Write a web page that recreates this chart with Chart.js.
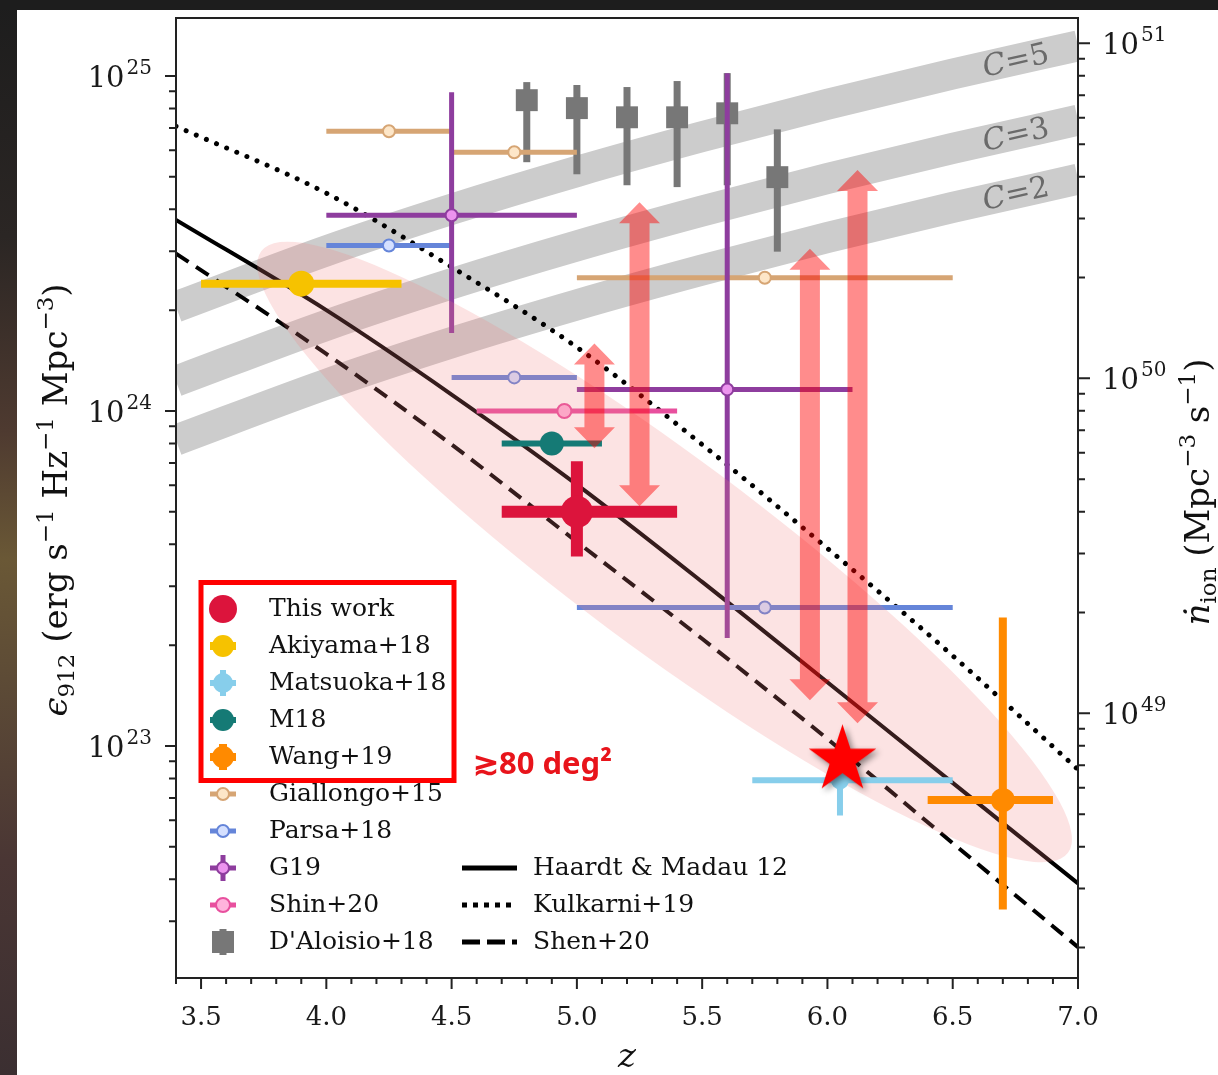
<!DOCTYPE html>
<html>
<head>
<meta charset="utf-8">
<title>Ionizing emissivity vs redshift</title>
<script src="https://cdn.jsdelivr.net/npm/chart.js@4.4.1/dist/chart.umd.min.js"></script>
<style>
  html, body { margin: 0; padding: 0; background: #1d1d1d; overflow: hidden; }
  canvas { display: block; }
</style>
</head>
<body>
<canvas id="myChart" width="1218" height="1075"></canvas>
<script>
// rows: [z, eps912, zLow, zHigh, epsLow, epsHigh]  (null -> no bar)
const thisWork = [[5.0, 5.0e23, 4.7, 5.4, 3.68e23, 7.08e23]];
const akiyama18 = [[3.9, 2.4e24, 3.5, 4.3, null, null]];
const matsuoka18 = [[6.05, 7.9e22, 5.7, 6.5, 6.2e22, 9.5e22]];
const m18 = [[4.9, 8.0e23, 4.7, 5.1, null, null]];
const wang19 = [[6.7, 6.9e22, 6.4, 6.9, 3.25e22, 2.42e23]];
const giallongo15 = [
  [4.25, 6.84e24, 4.0, 4.5, null, null],
  [4.75, 5.92e24, 4.5, 5.0, null, null],
  [5.75, 2.50e24, 5.0, 6.5, null, null]
];
const parsa18 = [
  [4.25, 3.12e24, 4.0, 4.5, null, null],
  [4.75, 1.26e24, 4.5, 5.0, null, null],
  [5.75, 2.59e23, 5.0, 6.5, null, null]
];
const g19 = [
  [4.5, 3.84e24, 4.0, 5.0, 1.71e24, 8.95e24],
  [5.6, 1.16e24, 5.0, 6.1, 2.10e23, 1.02e25]
];
const shin20 = [[4.95, 1.0e24, 4.6, 5.4, null, null]];
const daloisio18 = [
  [4.8, 8.47e24, null, null, 5.53e24, 9.59e24],
  [5.0, 8.02e24, null, null, 5.09e24, 9.40e24],
  [5.2, 7.53e24, null, null, 4.72e24, 9.27e24],
  [5.4, 7.53e24, null, null, 4.66e24, 9.66e24],
  [5.6, 7.74e24, null, null, 4.72e24, 1.02e25],
  [5.8, 4.99e24, null, null, 2.99e24, 6.93e24]
];
const starZ = [6.06];
const starEps = [9.1e22];

// model emissivities
const modelZ = [3.4, 4.0, 4.5, 5.0, 5.5, 6.0, 6.5, 7.0];
const haardtMadau12 = [3.72e24, 2.00e24, 1.12e24, 6.03e23, 3.09e23, 1.55e23, 7.76e22, 3.89e22];
const kulkarni19 = [7.08e24, 4.47e24, 2.69e24, 1.55e24, 7.94e23, 3.89e23, 1.86e23, 8.51e22];
const shen20 = [2.95e24, 1.48e24, 7.94e23, 4.07e23, 2.09e23, 1.05e23, 5.13e22, 2.51e22];

// emissivity that balances recombinations for clumping factor C
const clumpLabels = ['5', '3', '2'];
const clumpBands = [
  [2.046e24, 3.006e24, 4.000e24, 5.188e24, 6.592e24, 8.241e24, 1.014e25, 1.230e25],
  [1.227e24, 1.803e24, 2.399e24, 3.112e24, 3.954e24, 4.943e24, 6.081e24, 7.379e24],
  [8.185e23, 1.202e24, 1.600e24, 2.075e24, 2.636e24, 3.296e24, 4.055e24, 4.920e24]
];

// double-headed arrows
const arrowZ = [5.07, 5.25, 5.93, 6.12];
const arrowTop = [1.59e24, 4.20e24, 3.05e24, 5.24e24];
const arrowBottom = [7.74e23, 5.20e23, 1.37e23, 1.17e23];

// shaded region: ends of its long axis
const regionZ = [3.74, 6.96];
const regionEps = [3.0e24, 4.8e22];

// axes
const zMin = 3.4, zMax = 7.0;
const epsMin = 2.03e22, epsMax = 1.49e25;
const ionMin = 1.622e48, ionMax = 1.19e51;
const zTickLabels = ['3.5', '4.0', '4.5', '5.0', '5.5', '6.0', '6.5', '7.0'];
const epsDecades = [23, 24, 25];
const ionDecades = [49, 50, 51];

// plot box inside the 1218x1075 canvas
const box = {left: 176, right: 1078, top: 18, bottom: 978};

const SERIF = '"DejaVu Serif"';

function logTicks(min, max) {
  const out = [];
  for (let e = Math.floor(Math.log10(min)); e <= Math.ceil(Math.log10(max)); e++) {
    for (let k = 1; k <= 9; k++) {
      const v = k * Math.pow(10, e);
      if (v >= min && v <= max) out.push({value: v});
    }
  }
  return out;
}

// exponent if v is one of the labelled decades, otherwise null
function decadeOf(v, decades) {
  const l = Math.log10(v);
  const e = Math.round(l);
  return Math.abs(l - e) < 1e-6 && decades.includes(e) ? e : null;
}

function points(label, rows, opt) {
  return Object.assign({
    type: 'scatter',
    label: label,
    data: rows.map((r) => ({x: r[0], y: r[1], xMin: r[2], xMax: r[3], yMin: r[4], yMax: r[5]})),
    pointStyle: 'circle',
    pointBorderWidth: 0,
    showLine: false
  }, opt);
}

function curve(label, values, opt) {
  return Object.assign({
    type: 'line',
    label: label,
    data: modelZ.map((z, i) => ({x: z, y: values[i]})),
    pointRadius: 0,
    borderColor: '#000',
    borderWidth: 4,
    fill: false,
    cubicInterpolationMode: 'monotone'
  }, opt);
}

// filled five-point star with a soft drop shadow, used as a point style
function starCanvas(r, color) {
  const c = document.createElement('canvas');
  const size = Math.ceil(r * 2 + 20);
  c.width = size;
  c.height = size;
  const g = c.getContext('2d');
  g.shadowColor = 'rgba(0,0,0,0.45)';
  g.shadowBlur = 6;
  g.shadowOffsetX = 3;
  g.shadowOffsetY = 3;
  g.beginPath();
  for (let i = 0; i < 10; i++) {
    const rad = i % 2 === 0 ? r : r * 0.382;
    const a = -Math.PI / 2 + i * Math.PI / 5;
    g.lineTo(size / 2 + rad * Math.cos(a), size / 2 + rad * Math.sin(a));
  }
  g.closePath();
  g.fillStyle = color;
  g.fill();
  return c;
}

const datasets = [
  points('This work', thisWork, {pointRadius: 16, pointBackgroundColor: '#DC143C', errColor: '#DC143C', errWidth: 12, legendBars: '', legendRadius: 14, order: 41}),
  points('Akiyama+18', akiyama18, {pointRadius: 13, pointBackgroundColor: '#F6C200', errColor: '#F6C200', errWidth: 8, legendBars: 'h', legendRadius: 11, order: 45, regionBefore: true}),
  points('Matsuoka+18', matsuoka18, {pointRadius: 9, pointBackgroundColor: '#87CEEB', errColor: '#87CEEB', errWidth: 6, legendBars: 'hv', legendRadius: 10, order: 43}),
  points('M18', m18, {pointRadius: 12, pointBackgroundColor: '#157A75', errColor: '#157A75', errWidth: 6, legendBars: 'h', legendRadius: 11, order: 44}),
  points('Wang+19', wang19, {pointRadius: 12, pointBackgroundColor: '#FF8A00', errColor: '#FF8A00', errWidth: 8, legendBars: 'hv', legendRadius: 11, order: 42}),
  points('Giallongo+15', giallongo15, {pointRadius: 6, pointBackgroundColor: '#FDE6C8', pointBorderColor: '#D6A574', pointBorderWidth: 2, errColor: '#D6A574', errWidth: 5, legendBars: 'h', legendRadius: 6, order: 49}),
  points('Parsa+18', parsa18, {pointRadius: 6, pointBackgroundColor: '#D5E0FF', pointBorderColor: '#6585D9', pointBorderWidth: 2, errColor: '#6585D9', errWidth: 5, legendBars: 'h', legendRadius: 6, order: 48}),
  points('G19', g19, {pointRadius: 6, pointBackgroundColor: '#EC94EE', pointBorderColor: '#8E3D9E', pointBorderWidth: 2, errColor: '#8E3D9E', errWidth: 5, legendBars: 'hv', legendRadius: 6, order: 47}),
  points('Shin+20', shin20, {pointRadius: 7, pointBackgroundColor: '#FFB3DC', pointBorderColor: '#E8509E', pointBorderWidth: 2, errColor: '#E8509E', errWidth: 5, legendBars: 'h', legendRadius: 7, order: 46}),
  points("D'Aloisio+18", daloisio18, {pointStyle: 'rect', pointRadius: 15.5, pointBackgroundColor: '#777777', errColor: '#777777', errWidth: 7, legendBars: 'v', legendRadius: 11, order: 50}),
  curve('Haardt & Madau 12', haardtMadau12, {order: 90, legendDash: []}),
  curve('Kulkarni+19', kulkarni19, {order: 90, borderWidth: 5, borderDash: [0.01, 11], borderCapStyle: 'round', legendDash: [5, 6]}),
  curve('Shen+20', shen20, {order: 90, borderDash: [15, 9], legendDash: [18, 7]}),
  ...clumpBands.map((b, i) => curve('C=' + clumpLabels[i], b, {order: 100, borderColor: '#cccccc', borderWidth: 31, borderCapStyle: 'butt', band: true})),
  {
    type: 'scatter',
    label: 'star',
    data: starZ.map((z, i) => ({x: z, y: starEps[i]})),
    pointStyle: starCanvas(35.5, '#FF0000'),
    pointRadius: 36,
    order: 0,
    arrowsBefore: true
  }
];

function doubleArrow(ctx, x, yTop, yBot, shaft, head, headLen) {
  const s = shaft / 2, h = head / 2;
  ctx.beginPath();
  ctx.moveTo(x, yTop);
  ctx.lineTo(x + h, yTop + headLen);
  ctx.lineTo(x + s, yTop + headLen);
  ctx.lineTo(x + s, yBot - headLen);
  ctx.lineTo(x + h, yBot - headLen);
  ctx.lineTo(x, yBot);
  ctx.lineTo(x - h, yBot - headLen);
  ctx.lineTo(x - s, yBot - headLen);
  ctx.lineTo(x - s, yTop + headLen);
  ctx.lineTo(x - h, yTop + headLen);
  ctx.closePath();
  ctx.fill();
}

// mixed-size text (sub/superscripts) centred on x, y
function richText(ctx, parts, x, y, rot, size) {
  const small = Math.round(size * 0.68);
  const fontFor = (p) => (p.it ? 'italic ' : '') + (p.s ? small : size) + 'px ' + SERIF;
  let total = 0;
  const widths = parts.map((p) => {
    ctx.font = fontFor(p);
    const w = ctx.measureText(p.t).width;
    total += w;
    return w;
  });
  ctx.save();
  ctx.translate(x, y);
  ctx.rotate(rot);
  ctx.textAlign = 'left';
  ctx.textBaseline = 'alphabetic';
  let cur = -total / 2;
  parts.forEach((p, i) => {
    ctx.font = fontFor(p);
    const dy = p.s === 'sup' ? -size * 0.42 : p.s === 'sub' ? size * 0.22 : 0;
    ctx.fillText(p.t, cur, dy);
    cur += widths[i];
  });
  ctx.restore();
}

// "10" with a raised exponent, vertically centred on y
function powerLabel(ctx, e, x, y, align) {
  const base = '10', exp = String(e);
  ctx.font = '29px ' + SERIF;
  const wb = ctx.measureText(base).width;
  ctx.font = '20px ' + SERIF;
  const we = ctx.measureText(exp).width;
  const left = align === 'right' ? x - wb - 2 - we : x;
  ctx.textAlign = 'left';
  ctx.textBaseline = 'alphabetic';
  ctx.font = '29px ' + SERIF;
  ctx.fillText(base, left, y + 10.5);
  ctx.font = '20px ' + SERIF;
  ctx.fillText(exp, left + wb + 2, y - 2.5);
}

function legendMarker(ctx, ds, cx, cy) {
  const arm = 13;
  ctx.save();
  ctx.strokeStyle = ds.errColor;
  ctx.lineWidth = ds.errWidth;
  ctx.beginPath();
  if (ds.legendBars.includes('h')) { ctx.moveTo(cx - arm, cy); ctx.lineTo(cx + arm, cy); }
  if (ds.legendBars.includes('v')) { ctx.moveTo(cx, cy - arm); ctx.lineTo(cx, cy + arm); }
  ctx.stroke();
  const r = ds.legendRadius;
  ctx.fillStyle = ds.pointBackgroundColor;
  if (ds.pointStyle === 'rect') {
    ctx.fillRect(cx - r, cy - r, 2 * r, 2 * r);
  } else {
    ctx.beginPath();
    ctx.arc(cx, cy, r, 0, Math.PI * 2);
    ctx.fill();
    if (ds.pointBorderWidth) {
      ctx.strokeStyle = ds.pointBorderColor;
      ctx.lineWidth = ds.pointBorderWidth;
      ctx.stroke();
    }
  }
  ctx.restore();
}

const decor = {
  id: 'decor',
  beforeDraw(chart) {
    const {ctx, width, height} = chart;
    ctx.save();
    ctx.fillStyle = '#1d1d1d';
    ctx.fillRect(0, 0, width, height);
    const g = ctx.createLinearGradient(0, 0, 0, height);
    g.addColorStop(0, '#1d1d1d');
    g.addColorStop(0.22, '#2b2624');
    g.addColorStop(0.4, '#4e3a30');
    g.addColorStop(0.52, '#6a5836');
    g.addColorStop(0.64, '#5c4a36');
    g.addColorStop(0.8, '#4a3634');
    g.addColorStop(1, '#3b2f31');
    ctx.fillStyle = g;
    ctx.fillRect(0, 10, 17, height - 10);
    ctx.fillStyle = '#ffffff';
    ctx.fillRect(17, 10, width - 17, height - 10);
    ctx.restore();
  },
  beforeDatasetDraw(chart, args) {
    const ds = chart.data.datasets[args.index];
    const {ctx, chartArea: area} = chart;
    const x = chart.scales.x, y = chart.scales.y;
    ctx.save();
    ctx.beginPath();
    ctx.rect(area.left, area.top, area.right - area.left, area.bottom - area.top);
    ctx.clip();
    if (ds.regionBefore) {
      // translucent region over the models and literature points
      const x1 = x.getPixelForValue(regionZ[0]), y1 = y.getPixelForValue(regionEps[0]);
      const x2 = x.getPixelForValue(regionZ[1]), y2 = y.getPixelForValue(regionEps[1]);
      ctx.beginPath();
      ctx.ellipse((x1 + x2) / 2, (y1 + y2) / 2, Math.hypot(x2 - x1, y2 - y1) / 2, 95, Math.atan2(y2 - y1, x2 - x1), 0, Math.PI * 2);
      ctx.fillStyle = 'rgba(240,128,128,0.22)';
      ctx.fill();
    }
    if (ds.arrowsBefore) {
      ctx.fillStyle = 'rgba(255,0,0,0.45)';
      arrowZ.forEach((z, i) => {
        doubleArrow(ctx, x.getPixelForValue(z), y.getPixelForValue(arrowTop[i]), y.getPixelForValue(arrowBottom[i]), 20, 41, 21);
      });
    }
    if (ds.errWidth) {
      // error bars under the markers
      ctx.strokeStyle = ds.errColor;
      ctx.lineWidth = ds.errWidth;
      ctx.lineCap = 'butt';
      ds.data.forEach((p) => {
        const px = x.getPixelForValue(p.x), py = y.getPixelForValue(p.y);
        ctx.beginPath();
        if (p.xMin != null) {
          ctx.moveTo(x.getPixelForValue(p.xMin), py);
          ctx.lineTo(x.getPixelForValue(p.xMax), py);
        }
        if (p.yMin != null) {
          ctx.moveTo(px, y.getPixelForValue(p.yMin));
          ctx.lineTo(px, y.getPixelForValue(p.yMax));
        }
        ctx.stroke();
      });
    }
    ctx.restore();
  },
  afterDraw(chart) {
    const {ctx, chartArea: area} = chart;
    const sx = chart.scales.x, sy = chart.scales.y, sy2 = chart.scales.y2;
    ctx.save();

    // frame, tick marks and decade labels
    ctx.strokeStyle = '#222';
    ctx.lineWidth = 2;
    ctx.strokeRect(area.left, area.top, area.right - area.left, area.bottom - area.top);
    ctx.beginPath();
    sx.ticks.forEach((t) => {
      const p = sx.getPixelForValue(t.value);
      const len = t.label ? 11 : 6;
      ctx.moveTo(p, area.bottom);
      ctx.lineTo(p, area.bottom + len);
    });
    sy.ticks.forEach((t) => {
      const p = sy.getPixelForValue(t.value);
      const len = decadeOf(t.value, epsDecades) !== null ? 11 : 7;
      ctx.moveTo(area.left, p);
      ctx.lineTo(area.left - len, p);
    });
    sy2.ticks.forEach((t) => {
      const p = sy2.getPixelForValue(t.value);
      const len = decadeOf(t.value, ionDecades) !== null ? 12 : 7;
      ctx.moveTo(area.right, p);
      ctx.lineTo(area.right + len, p);
    });
    ctx.stroke();
    ctx.fillStyle = '#1a1a1a';
    sy.ticks.forEach((t) => {
      const e = decadeOf(t.value, epsDecades);
      if (e !== null) powerLabel(ctx, e, area.left - 24, sy.getPixelForValue(t.value), 'right');
    });
    sy2.ticks.forEach((t) => {
      const e = decadeOf(t.value, ionDecades);
      if (e !== null) powerLabel(ctx, e, area.right + 24, sy2.getPixelForValue(t.value), 'left');
    });

    // band labels, turned along each band
    const lz = 6.76;
    clumpBands.forEach((b, i) => {
      const n = b.length;
      const a = b[n - 2], c = b[n - 1];
      const f = (lz - modelZ[n - 2]) / (modelZ[n - 1] - modelZ[n - 2]);
      const v = Math.pow(10, Math.log10(a) + f * (Math.log10(c) - Math.log10(a)));
      const ang = Math.atan2(sy.getPixelForValue(c) - sy.getPixelForValue(a), sx.getPixelForValue(modelZ[n - 1]) - sx.getPixelForValue(modelZ[n - 2]));
      ctx.fillStyle = '#6a6a6a';
      richText(ctx, [{t: 'C', it: true}, {t: '=' + clumpLabels[i]}], sx.getPixelForValue(lz), sy.getPixelForValue(v) + 10, ang, 30);
    });

    // axis titles
    ctx.fillStyle = '#111';
    richText(ctx, [{t: 'ϵ', it: true}, {t: '912', s: 'sub'}, {t: ' (erg s'}, {t: '−1', s: 'sup'}, {t: ' Hz'}, {t: '−1', s: 'sup'}, {t: ' Mpc'}, {t: '−3', s: 'sup'}, {t: ')'}], 67, 500, -Math.PI / 2, 34);
    richText(ctx, [{t: 'ṅ', it: true}, {t: 'ion', s: 'sub'}, {t: ' (Mpc'}, {t: '−3', s: 'sup'}, {t: ' s'}, {t: '−1', s: 'sup'}, {t: ')'}], 1209, 492, -Math.PI / 2, 34);
    richText(ctx, [{t: 'z', it: true}], 627, 1067, 0, 34);

    // legend: markers (first column) and model lines (second column)
    const rowY = (i) => 609 + i * 37;
    ctx.font = '25px ' + SERIF;
    ctx.textBaseline = 'middle';
    ctx.textAlign = 'left';
    const marks = chart.data.datasets.filter((d) => d.legendBars !== undefined);
    marks.forEach((d, i) => {
      legendMarker(ctx, d, 223, rowY(i));
      ctx.fillStyle = '#111';
      ctx.fillText(d.label, 269, rowY(i));
    });
    const models = chart.data.datasets.filter((d) => d.legendDash !== undefined);
    models.forEach((d, i) => {
      const yy = rowY(marks.length - models.length + i);
      ctx.save();
      ctx.strokeStyle = '#000';
      ctx.lineWidth = 5;
      ctx.setLineDash(d.legendDash);
      ctx.beginPath();
      ctx.moveTo(462, yy);
      ctx.lineTo(517, yy);
      ctx.stroke();
      ctx.restore();
      ctx.fillStyle = '#111';
      ctx.fillText(d.label, 533, yy);
    });

    // survey-area callout
    ctx.strokeStyle = '#FF0000';
    ctx.lineWidth = 5;
    ctx.strokeRect(201, 582.5, 253, 198);
    ctx.fillStyle = '#E8141B';
    ctx.font = 'bold 31px "Noto Sans"';
    ctx.textBaseline = 'alphabetic';
    ctx.fillText('≳80 deg²', 473, 774);
    ctx.restore();
  }
};

const tickFont = {family: 'DejaVu Serif', size: 26};

// keep the plot box fixed: no extra room for the edge labels
function fixWidth(w) {
  return (scale) => { scale.width = w; scale.paddingTop = 0; scale.paddingBottom = 0; };
}

const chart = new Chart(document.getElementById('myChart'), {
  type: 'scatter',
  data: {datasets: datasets},
  plugins: [decor],
  options: {
    responsive: false,
    animation: false,
    events: [],
    layout: {autoPadding: false, padding: {top: box.top, left: 0, right: 0, bottom: 0}},
    plugins: {legend: {display: false}, tooltip: {enabled: false}},
    scales: {
      x: {
        type: 'linear',
        position: 'bottom',
        min: zMin,
        max: zMax,
        grid: {display: false},
        border: {display: false},
        afterBuildTicks: (scale) => {
          const t = [];
          for (let i = Math.round(zMin * 10); i <= Math.round(zMax * 10); i++) t.push({value: i / 10});
          scale.ticks = t;
        },
        afterFit: (scale) => { scale.height = 1075 - box.bottom; scale.paddingLeft = 0; scale.paddingRight = 0; },
        ticks: {
          autoSkip: false,
          maxRotation: 0,
          minRotation: 0,
          padding: 17,
          color: '#1a1a1a',
          font: tickFont,
          callback: (v) => {
            const k = (v - 3.5) * 2;
            const idx = Math.round(k);
            return Math.abs(k - idx) < 1e-6 && idx >= 0 && idx < zTickLabels.length ? zTickLabels[idx] : '';
          }
        }
      },
      y: {
        type: 'logarithmic',
        position: 'left',
        min: epsMin,
        max: epsMax,
        grid: {display: false},
        border: {display: false},
        afterBuildTicks: (scale) => { scale.ticks = logTicks(epsMin, epsMax); },
        afterFit: fixWidth(box.left),
        ticks: {display: false, autoSkip: false}
      },
      y2: {
        type: 'logarithmic',
        position: 'right',
        min: ionMin,
        max: ionMax,
        grid: {display: false},
        border: {display: false},
        afterBuildTicks: (scale) => { scale.ticks = logTicks(ionMin, ionMax); },
        afterFit: fixWidth(1218 - box.right),
        ticks: {display: false, autoSkip: false}
      }
    }
  }
});

// nudge the top padding if the layout still leaves the plot box lower than wanted
const drift = chart.chartArea.top - box.top;
if (Math.abs(drift) > 0.5) {
  chart.options.layout.padding.top = box.top - drift;
  chart.update();
}
</script>
</body>
</html>
